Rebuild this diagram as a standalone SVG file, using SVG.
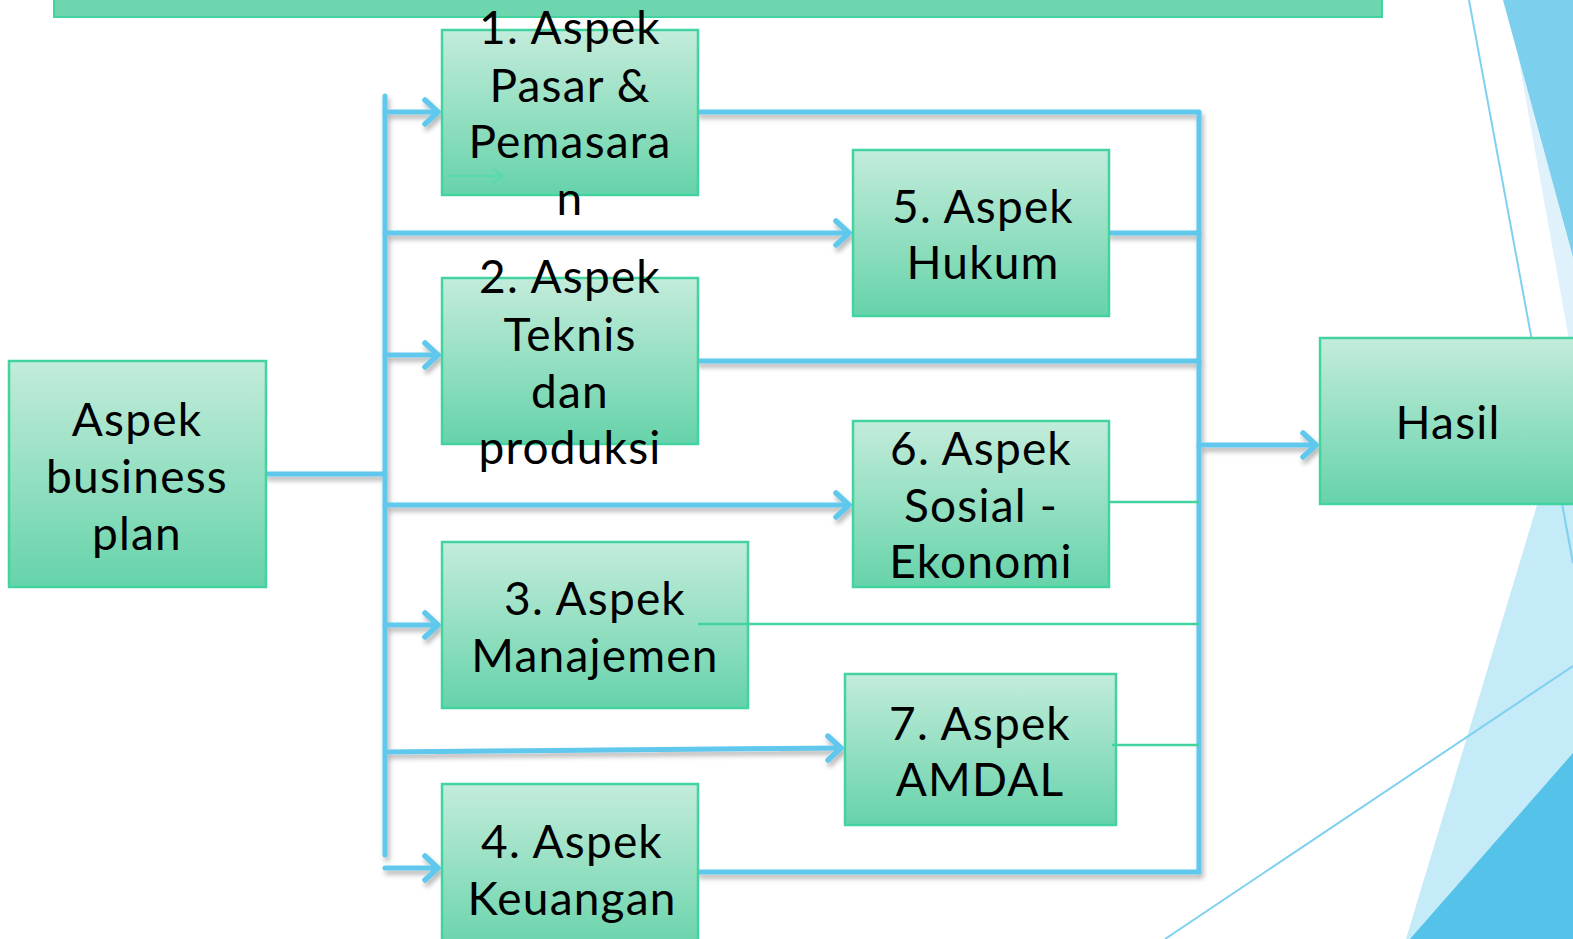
<svg xmlns="http://www.w3.org/2000/svg" width="1573" height="939" viewBox="0 0 1573 939">
<style>
.box{fill:url(#g);stroke:#43d3a0;stroke-width:2.5}
.t{font-family:Lato,"Open Sans",sans-serif;font-size:46px;letter-spacing:1.2px;fill:#000;text-anchor:middle}
.c{fill:none;stroke:#5ec8ec;stroke-width:5;stroke-linecap:round;stroke-linejoin:round}
.thin{fill:none;stroke:#43d3a0;stroke-width:2.5}
</style>
<defs>
<linearGradient id="g" x1="0" y1="0" x2="0" y2="1">
<stop offset="0" stop-color="#c3ecdb"/>
<stop offset="1" stop-color="#66d3aa"/>
</linearGradient>
<filter id="sh" x="-10%" y="-10%" width="120%" height="140%">
<feDropShadow dx="2" dy="4" stdDeviation="2.5" flood-color="#000" flood-opacity="0.3"/>
</filter>
<marker id="a" markerUnits="userSpaceOnUse" markerWidth="30" markerHeight="30" refX="20" refY="15" orient="auto" overflow="visible">
<path d="M7,3 L20,15 L7,27" fill="none" stroke="#5ec8ec" stroke-width="5.5" stroke-linecap="round" stroke-linejoin="round"/>
</marker>
<marker id="ag" markerUnits="userSpaceOnUse" markerWidth="20" markerHeight="20" refX="12" refY="10" orient="auto" overflow="visible">
<path d="M2,3 L12,10 L2,17" fill="none" stroke="#4fdbab" stroke-width="1.5"/>
</marker>
</defs>
<rect width="1573" height="939" fill="#fff"/>
<!-- background decoration -->
<polygon points="1508,0 1573,0 1573,362" fill="#dff2fb"/>
<polygon points="1503,0 1573,0 1573,257" fill="#7dcfee"/>
<polygon points="1406,939 1573,939 1573,386" fill="#c5eaf8"/>
<polygon points="1410,939 1573,939 1573,753" fill="#55c2ea"/>
<line x1="1469" y1="0" x2="1573" y2="563" stroke="#7fd1ef" stroke-width="2"/>
<line x1="1165" y1="939" x2="1573" y2="666" stroke="#7fd1ef" stroke-width="2"/>
<!-- banner -->
<rect x="54" y="-5" width="1328" height="22" fill="#6dd6ae" stroke="#43d3a0" stroke-width="2"/>
<!-- connectors -->
<g id="connectors">
<g filter="url(#sh)">
<path class="c" d="M385,96 L385,855"/>
<path class="c" d="M266,474 L385,474"/>
<path class="c" d="M385,112 L438,112" marker-end="url(#a)"/>
<path class="c" d="M385,233 L849,233" marker-end="url(#a)"/>
<path class="c" d="M385,355 L438,355" marker-end="url(#a)"/>
<path class="c" d="M385,505 L849,505" marker-end="url(#a)"/>
<path class="c" d="M385,625 L438,625" marker-end="url(#a)"/>
<path class="c" d="M385,752 L841,748" marker-end="url(#a)"/>
<path class="c" d="M385,868 L438,868" marker-end="url(#a)"/>
<path class="c" d="M698,112 L1199,112 L1199,872 L698,872"/>
<path class="c" d="M1109,233 L1199,233"/>
<path class="c" d="M698,361 L1199,361"/>
<path class="c" d="M1199,445 L1316,445" marker-end="url(#a)"/>
</g>
</g>
<!-- nodes -->
<g id="n-bp"><rect class="box" x="9" y="361" width="257" height="226"/>
<text class="t" x="137" y="436">Aspek</text><text class="t" x="137" y="493">business</text><text class="t" x="137" y="550">plan</text></g>
<g id="n1"><rect class="box" x="442" y="30" width="256" height="165"/>
<path d="M448,176 L503,176" fill="none" stroke="#4fdbab" stroke-width="1.5" marker-end="url(#ag)"/>
<text class="t" x="570" y="44">1. Aspek</text><text class="t" x="570" y="102">Pasar &amp;</text><text class="t" x="570" y="158">Pemasara</text><text class="t" x="570" y="215">n</text></g>
<g id="n5"><rect class="box" x="853" y="150" width="256" height="166"/>
<text class="t" x="983" y="223">5. Aspek</text><text class="t" x="983" y="279">Hukum</text></g>
<g id="n2"><rect class="box" x="442" y="278" width="256" height="166"/>
<text class="t" x="570" y="293">2. Aspek</text><text class="t" x="570" y="351">Teknis</text><text class="t" x="570" y="408">dan</text><text class="t" x="570" y="464">produksi</text></g>
<g id="n6"><rect class="box" x="853" y="421" width="256" height="166"/>
<text class="t" x="981" y="465">6. Aspek</text><text class="t" x="981" y="522">Sosial -</text><text class="t" x="981" y="578">Ekonomi</text></g>
<g id="n3"><rect class="box" x="442" y="542" width="306" height="166"/>
<text class="t" x="595" y="615">3. Aspek</text><text class="t" x="595" y="672">Manajemen</text></g>
<g id="n7"><rect class="box" x="845" y="674" width="271" height="151"/>
<text class="t" x="980" y="740">7. Aspek</text><text class="t" x="980" y="796">AMDAL</text></g>
<g id="n4"><rect class="box" x="442" y="784" width="256" height="170"/>
<text class="t" x="572" y="858">4. Aspek</text><text class="t" x="572" y="915">Keuangan</text></g>
<g id="n-hasil"><rect class="box" x="1320" y="338" width="270" height="166"/>
<text class="t" x="1448" y="439">Hasil</text></g>
<g id="thin-links">
<path class="thin" d="M1109,502 L1199,502"/>
<path class="thin" d="M698,624 L1199,624"/>
<path class="thin" d="M1112,745 L1199,745"/>
</g>
</svg>
